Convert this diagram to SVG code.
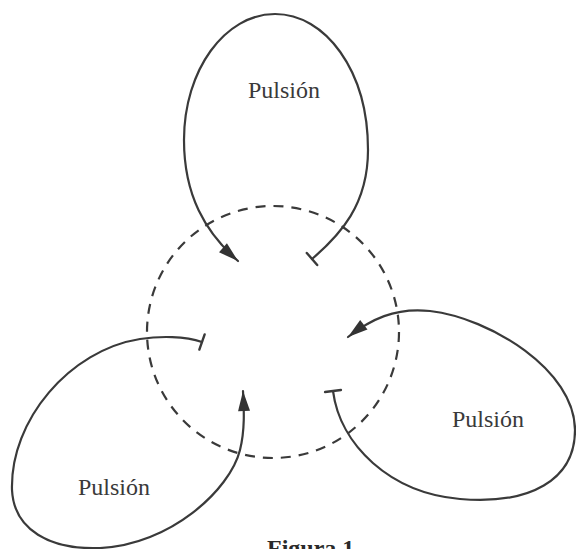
<svg xmlns="http://www.w3.org/2000/svg" width="576" height="549" viewBox="0 0 576 549">
<style>
.loop{fill:none;stroke:#3a3a3a;stroke-width:2.2;stroke-linecap:round}
.ring{fill:none;stroke:#3a3a3a;stroke-width:2.2;stroke-dasharray:10 8}
.lbl{font-family:"Liberation Serif",serif;font-size:24px;fill:#3a3a3a}
.cap{font-family:"Liberation Serif",serif;font-size:24px;font-weight:bold;fill:#2a2a2a}
</style>
<defs>
<marker id="arrow" markerUnits="userSpaceOnUse" markerWidth="24" markerHeight="14" refX="20" refY="6" orient="auto" overflow="visible">
<path d="M0,0 L20,6 L0,12 Z" fill="#333"/>
</marker>
<marker id="bar" markerUnits="userSpaceOnUse" markerWidth="4" markerHeight="18" refX="0" refY="0" orient="auto" overflow="visible">
<line x1="0" y1="-8" x2="0" y2="8" stroke="#3a3a3a" stroke-width="2.4" stroke-linecap="round"/>
</marker>
</defs>
<rect width="576" height="549" fill="#fff"/>
<g id="center">
<circle class="ring" cx="273" cy="332" r="126"/>
</g>
<g id="connectors">
<path id="loop-top" class="loop" d="M312,259 C340,235 368,205 368,150 C368,70 325,14 275,14 C225,14 184,70 184,140 C184,195 205,232 238,261" marker-start="url(#bar)" marker-end="url(#arrow)"/>
<path id="loop-right" class="loop" d="M333,391 C340,445 390,493 460,499 C530,505 575,480 575,430 C575,370 490,318 430,311 C395,307 370,320 348,337" marker-start="url(#bar)" marker-end="url(#arrow)"/>
<path id="loop-left" class="loop" d="M202,342 C185,336 160,336 140,339 C70,350 10,420 12,490 C14,530 50,550 100,548 C170,545 230,490 240,450 C245,430 244,410 243,391" marker-start="url(#bar)" marker-end="url(#arrow)"/>
</g>
<g id="node-top"><text class="lbl" x="248" y="98">Pulsión</text></g>
<g id="node-right"><text class="lbl" x="452" y="427">Pulsión</text></g>
<g id="node-left"><text class="lbl" x="78" y="495">Pulsión</text></g>
<g id="caption"><text class="cap" x="267" y="556">Figura 1</text></g>
</svg>
